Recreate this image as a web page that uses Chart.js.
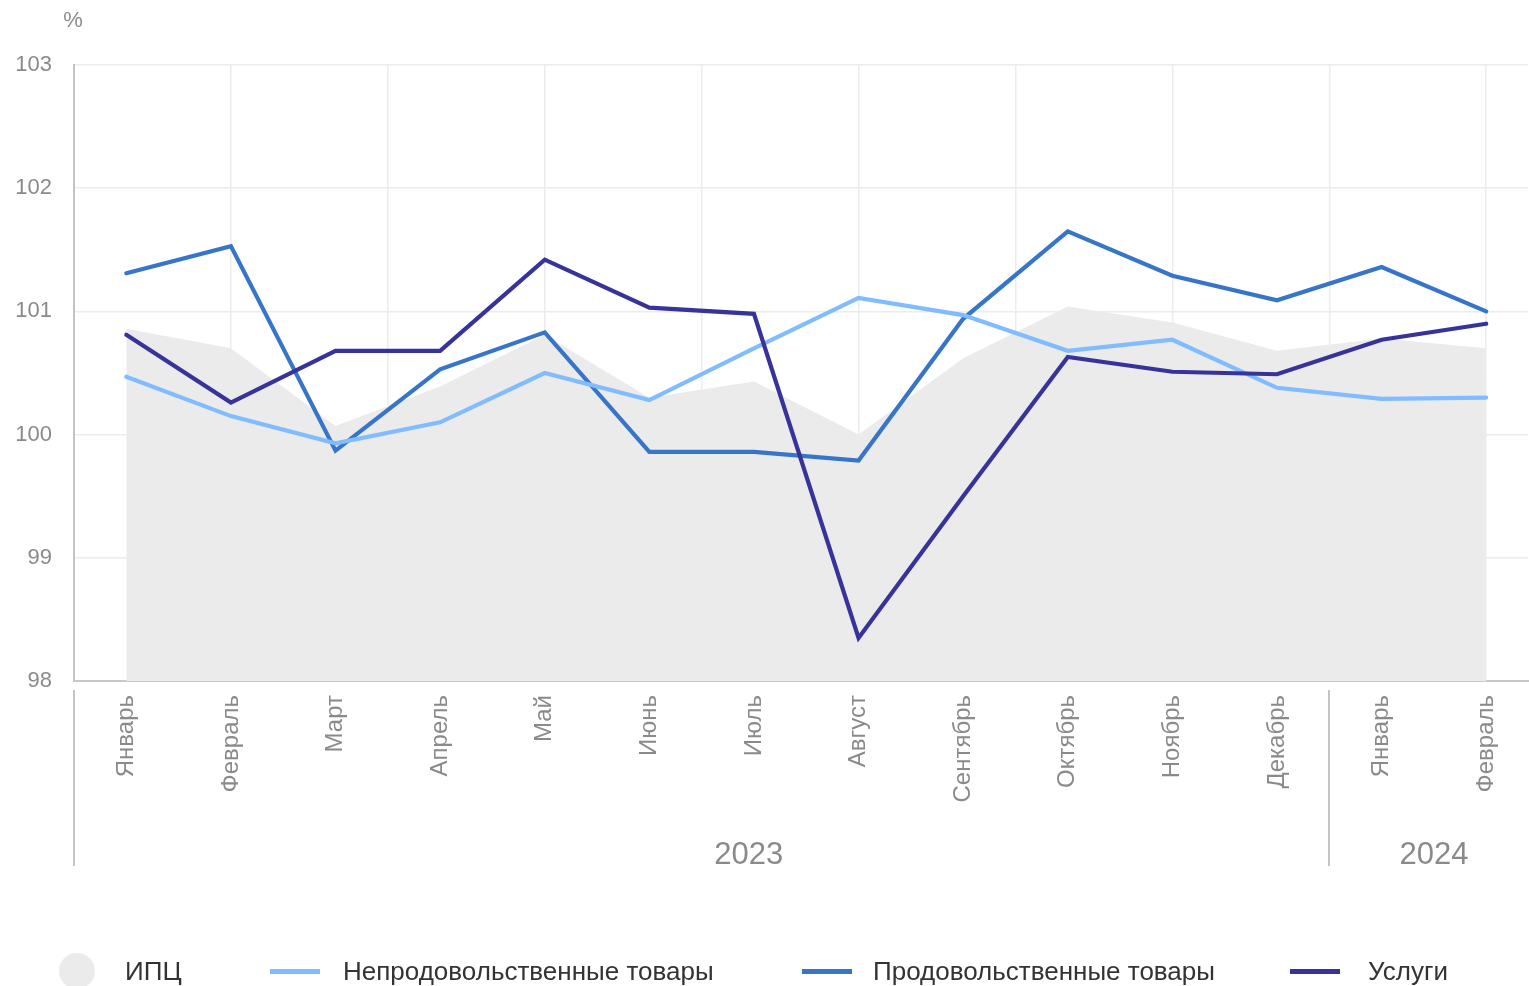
<!DOCTYPE html>
<html>
<head>
<meta charset="utf-8">
<script src="https://cdn.jsdelivr.net/npm/chart.js@4/dist/chart.umd.min.js"></script>
<style>
  html, body { margin: 0; padding: 0; background: #fff; }
  #wrap { position: relative; width: 1529px; height: 986px; overflow: hidden; }
  #c { position: absolute; left: 0; top: 0; }
  #legend { position: absolute; left: 0; top: 949px; height: 44px; width: 1529px;
            font-family: "Liberation Sans", Arial, sans-serif; font-size: 26px; color: #333; }
  .item { position: absolute; top: 0; height: 44px; display: flex; align-items: center; }
  .sw-circle { width: 36px; height: 36px; border-radius: 50%; background: #ebebeb; }
  .sw-line { width: 50px; height: 5px; }
</style>
</head>
<body>
<div id="wrap">
  <canvas id="c" width="1529" height="986"></canvas>
  <div id="legend"></div>
</div>
<script>
const months = ['Январь','Февраль','Март','Апрель','Май','Июнь','Июль','Август','Сентябрь','Октябрь','Ноябрь','Декабрь','Январь','Февраль'];
const cpi      = [100.86, 100.70, 100.07, 100.39, 100.81, 100.30, 100.43, 100.00, 100.62, 101.04, 100.91, 100.68, 100.78, 100.70];
const nonFood  = [100.47, 100.15,  99.93, 100.10, 100.50, 100.28, 100.70, 101.11, 100.97, 100.68, 100.77, 100.38, 100.29, 100.30];
const food     = [101.31, 101.53,  99.87, 100.53, 100.83,  99.86,  99.86,  99.79, 100.94, 101.65, 101.29, 101.09, 101.36, 101.00];
const services = [100.81, 100.26, 100.68, 100.68, 101.42, 101.03, 100.98,  98.35,  99.50, 100.63, 100.51, 100.49, 100.77, 100.90];
const yTicks = [98, 99, 100, 101, 102, 103];
const years = [
  { label: '2023', first: 0,  last: 11 },
  { label: '2024', first: 12, last: 13 }
];
const unitLabel = '%';
const seriesNames = ['ИПЦ', 'Непродовольственные товары', 'Продовольственные товары', 'Услуги'];

const C_CPI = '#ebebeb', C_NONFOOD = '#80bcff', C_FOOD = '#3675c7', C_SERV = '#38339a';
const FONT = '"Liberation Sans", Arial, sans-serif';
const GRAY = '#8a8a8a';

const pts = arr => arr.map((v, i) => ({ x: i, y: v }));

const extras = {
  id: 'extras',
  afterDraw(chart) {
    const ctx = chart.ctx, x = chart.scales.x, area = chart.chartArea;
    ctx.save();
    // unit label
    ctx.fillStyle = GRAY;
    ctx.font = '22px ' + FONT;
    ctx.textAlign = 'center';
    ctx.textBaseline = 'middle';
    ctx.fillText(unitLabel, area.left - 1, 21);
    // year separators
    ctx.strokeStyle = '#c4c4c4';
    ctx.lineWidth = 2;
    const seps = [years[0].first - 0.5].concat(years.slice(1).map(y => y.first - 0.5));
    seps.forEach(v => {
      const px = Math.round(x.getPixelForValue(v));
      ctx.beginPath();
      ctx.moveTo(px, area.bottom + 9);
      ctx.lineTo(px, area.bottom + 185);
      ctx.stroke();
    });
    // year labels
    ctx.font = '31px ' + FONT;
    ctx.fillStyle = GRAY;
    const centers = [5.95, 12.5];
    years.forEach((y, i) => {
      ctx.fillText(y.label, x.getPixelForValue(centers[i]), area.bottom + 174);
    });
    ctx.restore();
  }
};

new Chart(document.getElementById('c'), {
  type: 'line',
  data: {
    datasets: [
      { label: seriesNames[3], data: pts(services), borderColor: C_SERV, borderWidth: 4.2, pointRadius: 0, fill: false, order: 1 },
      { label: seriesNames[1], data: pts(nonFood),  borderColor: C_NONFOOD, borderWidth: 4.2, pointRadius: 0, fill: false, order: 2 },
      { label: seriesNames[2], data: pts(food),     borderColor: C_FOOD, borderWidth: 4.2, pointRadius: 0, fill: false, order: 3 },
      { label: seriesNames[0], data: pts(cpi),      borderColor: 'rgba(0,0,0,0)', backgroundColor: C_CPI, borderWidth: 0, pointRadius: 0, fill: 'start', order: 4 }
    ]
  },
  options: {
    responsive: false,
    animation: false,
    layout: { padding: { top: 65, right: 0, bottom: 0, left: 0 } },
    plugins: { legend: { display: false }, tooltip: { enabled: false } },
    elements: { line: { tension: 0, borderJoinStyle: 'miter', borderCapStyle: 'round' } },
    scales: {
      x: {
        type: 'linear', position: 'bottom', min: -0.5, max: 13.4,
        afterBuildTicks: s => { s.ticks = months.map((_, i) => ({ value: i })); },
        afterFit: s => { s.height = 305; },
        ticks: {
          autoSkip: false, maxRotation: 90, minRotation: 90, padding: 14,
          color: GRAY, font: { family: FONT, size: 24 },
          callback: v => months[v]
        },
        grid: { display: false, drawTicks: false },
        border: { display: true, color: '#c8c8c8', width: 2 }
      },
      xg: {
        type: 'linear', position: 'bottom', min: -0.5, max: 13.4,
        afterBuildTicks: s => { const t = []; for (let v = -0.5; v <= 13.4; v += 1.5) t.push({ value: v }); s.ticks = t; },
        afterFit: s => { s.height = 0; },
        ticks: { display: false },
        grid: { color: '#ececec', lineWidth: 1.5, drawTicks: false },
        border: { display: false }
      },
      y: {
        min: 98, max: 103,
        afterBuildTicks: s => { s.ticks = yTicks.map(v => ({ value: v })); },
        afterFit: s => { s.width = 74; },
        ticks: { color: GRAY, padding: 22, font: { family: FONT, size: 22 } },
        grid: { color: '#ececec', lineWidth: 1.5, drawTicks: false },
        border: { display: true, color: '#c4c4c4', width: 2 }
      }
    }
  },
  plugins: [extras]
});

// HTML legend
const legendItems = [
  { name: seriesNames[0], type: 'circle', color: C_CPI,     left: 59,   gap: 30 },
  { name: seriesNames[1], type: 'line',   color: C_NONFOOD, left: 270,  gap: 23 },
  { name: seriesNames[2], type: 'line',   color: C_FOOD,    left: 802,  gap: 21 },
  { name: seriesNames[3], type: 'line',   color: C_SERV,    left: 1290, gap: 28 }
];
const lg = document.getElementById('legend');
legendItems.forEach(it => {
  const d = document.createElement('div');
  d.className = 'item';
  d.style.left = it.left + 'px';
  const sw = document.createElement('span');
  sw.className = it.type === 'circle' ? 'sw-circle' : 'sw-line';
  sw.style.background = it.color;
  const t = document.createElement('span');
  t.textContent = it.name;
  t.style.marginLeft = it.gap + 'px';
  d.appendChild(sw); d.appendChild(t);
  lg.appendChild(d);
});
</script>
</body>
</html>
